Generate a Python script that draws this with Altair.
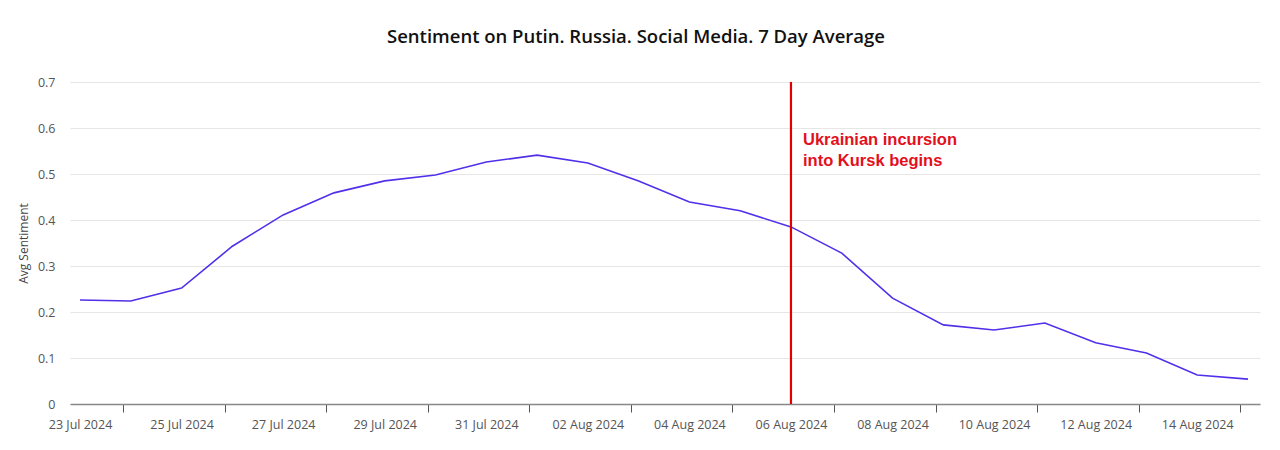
import altair as alt
import pandas as pd

dates = pd.date_range("2024-07-23", "2024-08-15", freq="D").strftime("%Y-%m-%d").tolist()
sentiment = [0.226, 0.224, 0.252, 0.343, 0.411, 0.459, 0.485, 0.498, 0.526, 0.541,
             0.524, 0.485, 0.439, 0.420, 0.385, 0.328, 0.230, 0.172, 0.161, 0.176,
             0.133, 0.111, 0.063, 0.054]
label_dates = ["2024-07-23", "2024-07-25", "2024-07-27", "2024-07-29", "2024-07-31",
               "2024-08-02", "2024-08-04", "2024-08-06", "2024-08-08", "2024-08-10",
               "2024-08-12", "2024-08-14"]
event_date = ["2024-08-06"]
event_text = ["Ukrainian incursion", "into Kursk begins"]
y_ticks = [0, 0.1, 0.2, 0.3, 0.4, 0.5, 0.6, 0.7]


def dt(s, hours=0, minutes=0):
    y, m, d = [int(v) for v in s.split("-")]
    return alt.DateTime(year=y, month=m, date=d, hours=hours, minutes=minutes, utc=True)


df = pd.DataFrame({"date": dates, "value": sentiment})
ev = pd.DataFrame({"date": event_date, "y": [0.7], "y2": [0.0], "label": [event_text], "ty": [0.574]})

xscale = alt.Scale(type="utc", domain=[dt("2024-07-22", 19, 16), dt("2024-08-15", 5, 40)])
yscale = alt.Scale(domain=[0, 0.7], nice=False)

xaxis = alt.Axis(
    values=[dt(s) for s in label_dates],
    labelExpr="utcFormat(datum.value, '%d %b %Y')",
    title=None,
    grid=False,
    tickOffset=43,
    labelOffset=-43,
    labelFlush=False,
    labelOverlap=False,
    labelFont="Open Sans",
    labelFontSize=12.5,
    labelColor="#555555",
    labelPadding=6,
    tickColor="#555555",
    tickSize=8,
    domainColor="#888888",
    domainWidth=1.5,
)
yaxis = alt.Axis(
    values=y_ticks,
    title="Avg Sentiment",
    titleFont="Open Sans",
    titleFontSize=12,
    titleFontWeight="normal",
    titleColor="#444444",
    titlePadding=7,
    labelFont="Open Sans",
    labelFontSize=12.5,
    labelColor="#555555",
    labelPadding=15,
    domain=False,
    ticks=False,
    gridColor="#e6e6e6",
    labelExpr="datum.value == 0 ? '0' : format(datum.value, '.1f')",
)

line = alt.Chart(df).mark_line(color="#5230ea", strokeWidth=1.6).encode(
    x=alt.X("date:T", scale=xscale, axis=xaxis),
    y=alt.Y("value:Q", scale=yscale, axis=yaxis),
)

rule = alt.Chart(ev).mark_rule(color="#e00000", strokeWidth=2.2).encode(
    x=alt.X("date:T", scale=xscale),
    y=alt.Y("y:Q", scale=yscale),
    y2="y2:Q",
)

text = alt.Chart(ev).mark_text(
    color="#e3101c", font="Liberation Sans", fontWeight="bold", fontSize=16.5,
    align="left", baseline="middle", dx=12, lineHeight=21,
).encode(
    x=alt.X("date:T", scale=xscale),
    y=alt.Y("ty:Q", scale=yscale),
    text="label",
)

chart = alt.layer(line, rule, text).properties(
    width=1190,
    height=322,
    title=alt.TitleParams(
        "Sentiment on Putin. Russia. Social Media. 7 Day Average",
        font="Open Sans", fontSize=18.5, fontWeight=600, color="#111111",
        anchor="middle", offset=30, dx=-29,
    ),
    autosize=alt.AutoSizeParams(type="none"),
    padding={"left": 62, "top": 74, "right": 12, "bottom": 38},
).configure_view(stroke=None)

chart.save("out.html", embed_options={"renderer": "svg", "actions": False})
